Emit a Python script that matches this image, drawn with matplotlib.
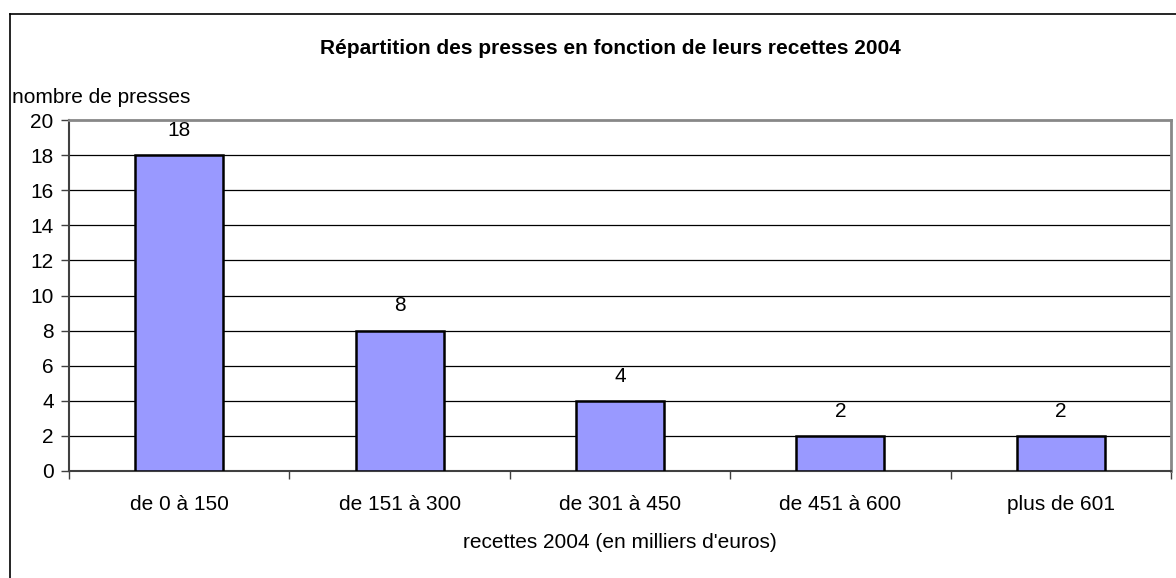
import matplotlib
matplotlib.use("Agg")
import matplotlib.pyplot as plt
from matplotlib.lines import Line2D
import numpy as np

categories = ["de 0 à 150", "de 151 à 300", "de 301 à 450", "de 451 à 600", "plus de 601"]
values = [18, 8, 4, 2, 2]
yticks = [0, 2, 4, 6, 8, 10, 12, 14, 16, 18, 20]
title = "Répartition des presses en fonction de leurs recettes 2004"
ylabel = "nombre de presses"
xlabel = "recettes 2004 (en milliers d'euros)"

plt.rcParams['font.family'] = ['Liberation Sans', 'DejaVu Sans']
FS = 15.0
W, H = 1176, 578
fig = plt.figure(figsize=(W / 100, H / 100), dpi=100)
fig.patch.set_facecolor("white")

L, R, T, B = 69, 1171, 120, 471
ax = fig.add_axes([L / W, 1 - B / H, (R - L) / W, (B - T) / H])

x = np.arange(len(categories))
ax.bar(x, values, width=0.40, color="#9999FF", edgecolor="black", linewidth=1.8, zorder=3)
ax.set_xlim(-0.5, len(categories) - 0.5)
ax.set_ylim(0, 20)
ax.set_yticks(yticks)
ax.set_yticklabels([str(t) for t in yticks], fontsize=FS)
ax.set_xticks(np.arange(len(categories) + 1) - 0.5)
ax.set_xticklabels([])
ax.set_xticks(x, minor=True)
ax.set_xticklabels(categories, minor=True, fontsize=FS)
ax.tick_params(axis="x", which="minor", length=0, pad=17)
ax.tick_params(axis="x", which="major", length=6, width=1, color="#404040", direction="out")
ax.tick_params(axis="y", length=6, width=1, color="#404040", direction="out", pad=5)

for t in yticks[1:-1]:
    ax.axhline(t, color="black", linewidth=0.9, zorder=1)

for s in ["left", "bottom"]:
    ax.spines[s].set_color("#404040")
    ax.spines[s].set_linewidth(1.5)
for s in ["top", "right"]:
    ax.spines[s].set_color("#888888")
    ax.spines[s].set_linewidth(2.0)

for xi, v in zip(x, values):
    ax.annotate(str(v), (xi, v), xytext=(0, 11), textcoords="offset points",
                ha="center", va="bottom", fontsize=FS)

fig.text(610 / W, 1 - 48 / H, title, ha="center", va="center", fontsize=FS, fontweight="bold")
fig.text(12 / W, 1 - 98 / H, ylabel, ha="left", va="center", fontsize=FS)
fig.text(620 / W, 1 - 542 / H, xlabel, ha="center", va="center", fontsize=FS)

fig.add_artist(Line2D([10 / W, 10 / W], [0, 1 - 14 / H], color="black", linewidth=1.2, transform=fig.transFigure))
fig.add_artist(Line2D([10 / W, 1], [1 - 14 / H, 1 - 14 / H], color="black", linewidth=1.2, transform=fig.transFigure))

fig.savefig("out.png", dpi=100)
